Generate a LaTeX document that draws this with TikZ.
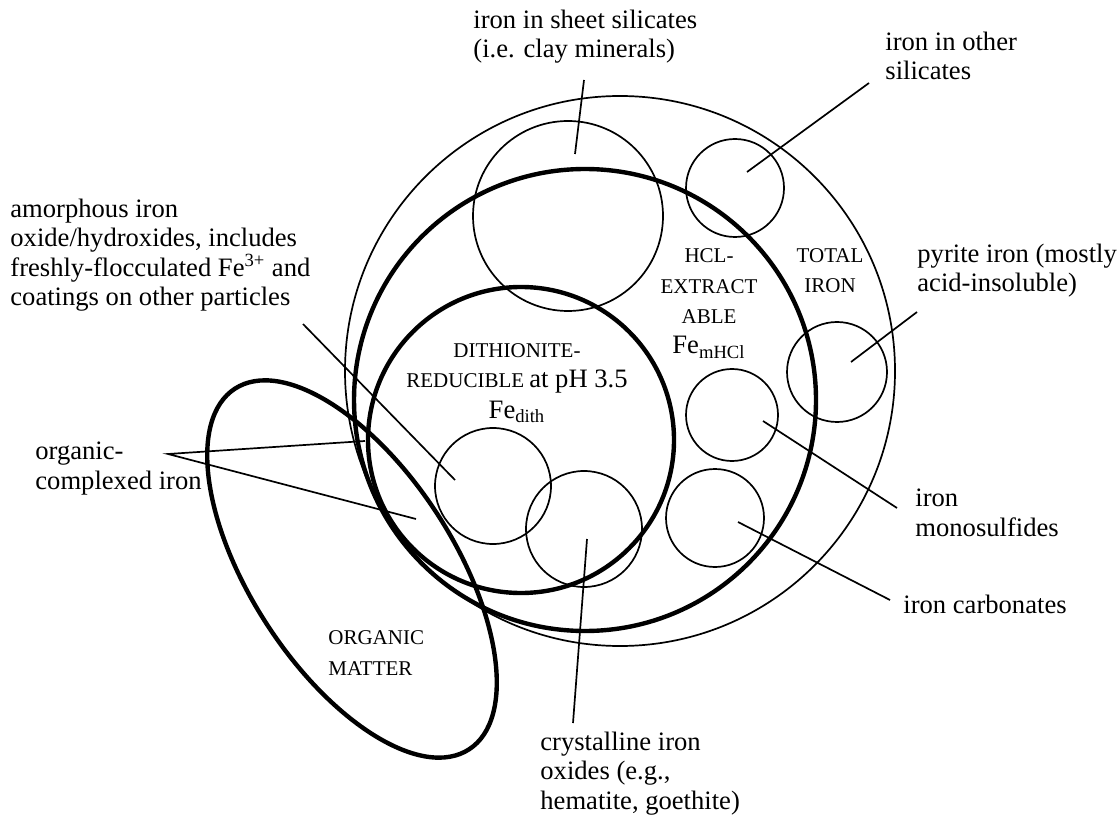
\documentclass[tikz,border=0pt]{standalone}
\usepackage{fontspec}
\setmainfont{Liberation Serif}
\newcommand{\bigtxt}{\fontsize{13.3}{14.75}\selectfont}
\newcommand{\captxt}{\fontsize{10.5}{15.2}\selectfont}

\begin{document}
\begin{tikzpicture}[x=0.5pt,y=-0.5pt,
  thinring/.style={line width=0.85pt},
  boldring/.style={line width=2.2pt},
  leader/.style={line width=0.85pt},
  note/.style={anchor=base west,align=left,inner sep=0pt,font=\bigtxt},
  inside/.style={anchor=base,align=center,inner sep=0pt,font=\captxt}]
\useasboundingbox (0,0) rectangle (1117,817); %Page size of the figure

%Pools of iron
\draw[thinring] (620,371) circle (275); %Total iron
\draw[boldring] (585,400) circle (231); %HCl-extractable
\draw[boldring] (521,440) circle (153); %Dithionite-reducible
\draw[boldring, rotate around={-57:(352,569)}] (352,569) ellipse (215 and 101.5); %Organic matter
\draw[thinring] (568,216) circle (95); %Sheet silicates
\draw[thinring] (735,188) circle (49); %Other silicates
\draw[thinring] (837,372) circle (50); %Pyrite
\draw[thinring] (732,415) circle (46); %Monosulfides
\draw[thinring] (715,518) circle (49); %Carbonates
\draw[thinring] (493,486) circle (58); %Amorphous oxides
\draw[thinring] (584,529) circle (58); %Crystalline oxides

%Texts inside the pools (placed at the baseline of their last line)
\node[inside] (dithtxt) at (517,418) {DITHIONITE-\\REDUCIBLE {\fontsize{13.3}{15.2}\selectfont at pH 3.5}\\{\fontsize{13.3}{15.2}\selectfont Fe\textsubscript{dith}}};
\node[inside] (hcltxt) at (709,354) {HCL-\\EXTRACT\\ABLE\\{\fontsize{13.3}{15.2}\selectfont Fe\textsubscript{mHCl}}};
\node[inside] (totaltxt) at (830,293) {TOTAL\\IRON};
\node[inside,anchor=base west,align=left] (orgtxt) at (328,675) {ORGANIC\\MATTER};

%Labels outside (placed at the baseline of their last line)
\node[note] (sheetlbl) at (473,58) {iron in sheet silicates\\(i.e. clay minerals)};
\node[note] (otherlbl) at (885,80) {iron in other\\silicates};
\node[note] (amorphlbl) at (10,306) {amorphous iron\\oxide/hydroxides, includes\\freshly-flocculated Fe\textsuperscript{3+} and\\coatings on other particles};
\node[note] (orglbl) at (35,489) {organic-\\complexed iron};
\node[note] (pyritelbl) at (917,292) {pyrite iron (mostly\\acid-insoluble)};
\node[note] (monolbl) at (915,536) {iron\\monosulfides};
\node[note] (carblbl) at (903,613) {iron carbonates};
\node[note] (crystlbl) at (540,809) {crystalline iron\\oxides (e.g.,\\hematite, goethite)};

%Ends of the leader lines
\coordinate (sheet-a) at (584,80);  \coordinate (sheet-b) at (575,154);
\coordinate (other-a) at (869,83);  \coordinate (other-b) at (747,172);
\coordinate (pyrite-a) at (917,312); \coordinate (pyrite-b) at (851,362);
\coordinate (mono-a) at (897,508);  \coordinate (mono-b) at (763,421);
\coordinate (carb-a) at (890,600);  \coordinate (carb-b) at (738,522);
\coordinate (cryst-a) at (573,723); \coordinate (cryst-b) at (587,539);
\coordinate (amorph-a) at (303,324); \coordinate (amorph-b) at (455,480);
\coordinate (org-a) at (168,454);   \coordinate (org-b) at (365,441); \coordinate (org-c) at (416,519);

\draw[leader] (sheet-a) -- (sheet-b);
\draw[leader] (other-a) -- (other-b);
\draw[leader] (pyrite-a) -- (pyrite-b);
\draw[leader] (mono-a) -- (mono-b);
\draw[leader] (carb-a) -- (carb-b);
\draw[leader] (cryst-a) -- (cryst-b);
\draw[leader] (amorph-a) -- (amorph-b);
\draw[leader] (org-b) -- (org-a) -- (org-c);
\end{tikzpicture}
\end{document}
